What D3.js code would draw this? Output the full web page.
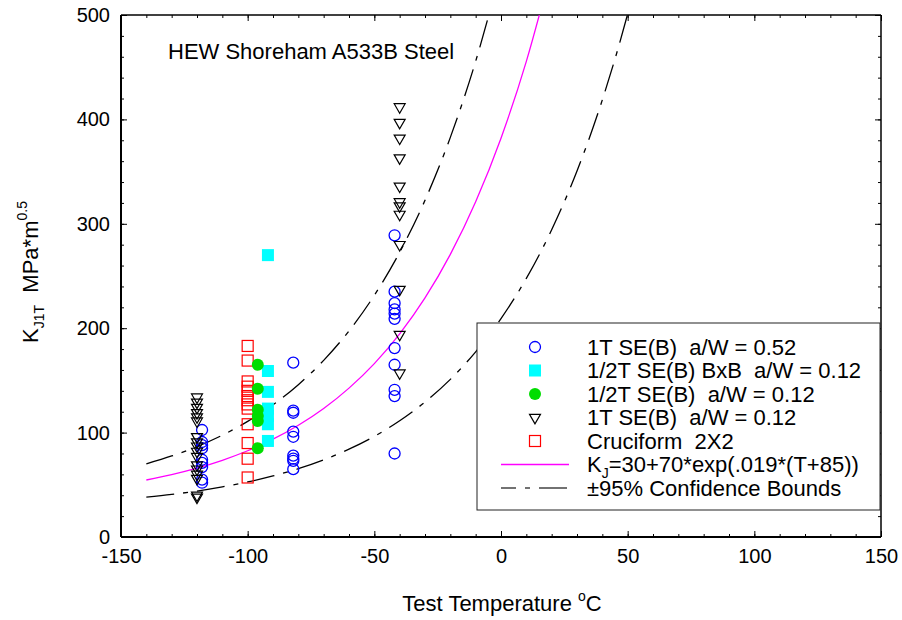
<!DOCTYPE html>
<html>
<head>
<meta charset="utf-8">
<script src="https://cdn.jsdelivr.net/npm/d3@7"></script>
<style>
  body { margin: 0; background: #fff; }
  text { font-family: "Liberation Sans", Arial, sans-serif; fill: #000; white-space: pre; }
</style>
</head>
<body>
<svg id="chart"></svg>
<script>
// ---- data: [temperature C, K_J1T] ----
const oneT52 = [
  [-118, 102.5], [-118, 91], [-118, 88], [-118, 85], [-118, 74], [-118, 71], [-118, 67], [-118, 55], [-118, 52],
  [-82, 167], [-82, 121], [-82, 119], [-82, 101], [-82, 96], [-82, 78], [-82, 75], [-82, 73], [-82, 65],
  [-42, 289], [-42, 235], [-42, 224], [-42, 218], [-42, 214], [-42, 209], [-42, 181], [-42, 165], [-42, 141], [-42, 135], [-42, 80]
];
const halfTBxB = [
  [-92, 270], [-92, 159], [-92, 139], [-92, 123], [-92, 116], [-92, 108], [-92, 92]
];
const halfT12 = [
  [-96, 165], [-96, 142], [-96, 122], [-96, 116], [-96, 111], [-96, 85]
];
const oneT12 = [
  [-120, 134], [-120, 129], [-120, 124], [-120, 119], [-120, 115], [-120, 111],
  [-120, 96], [-120, 91], [-120, 87], [-120, 82], [-120, 77],
  [-120, 69], [-120, 65], [-120, 60], [-120, 56], [-120, 40], [-120, 38],
  [-40, 412], [-40, 397], [-40, 382], [-40, 363], [-40, 336], [-40, 321], [-40, 317], [-40, 309],
  [-40, 280], [-40, 237], [-40, 194], [-40, 157]
];
const cruciform = [
  [-100, 183], [-100, 169], [-100, 149], [-100, 144], [-100, 140], [-100, 135], [-100, 131],
  [-100, 127], [-100, 123], [-100, 108], [-100, 90], [-100, 75], [-100, 57]
];

// master curve and bounds
const medianCurve = [
  [-140, 54.6], [-130, 59.8], [-120, 66.0], [-110, 73.5], [-100, 82.6], [-90, 93.7], [-80, 107.0],
  [-70, 123.1], [-60, 142.6], [-50, 166.1], [-40, 194.6], [-30, 229.0], [-20, 270.7], [-10, 321.1],
  [0, 382.0], [10, 455.6], [20, 544.7]
];
const upperCurve = [
  [-140, 70.1], [-130, 77.6], [-120, 86.6], [-110, 97.5], [-100, 110.7], [-90, 126.6], [-80, 145.9],
  [-70, 169.2], [-60, 197.4], [-50, 231.5], [-40, 272.7], [-30, 322.5], [-20, 382.8], [-10, 455.7], [0, 543.8]
];
const lowerCurve = [
  [-140, 38.1], [-130, 40.8], [-120, 44.0], [-110, 48.0], [-100, 52.7], [-90, 58.5], [-80, 65.4],
  [-70, 73.9], [-60, 84.1], [-50, 96.4], [-40, 111.3], [-30, 129.3], [-20, 151.0], [-10, 177.4],
  [0, 209.2], [10, 247.7], [20, 294.3], [30, 350.6], [40, 418.7], [50, 501.0], [55, 548.4]
];

const xTicks = [-150, -100, -50, 0, 50, 100, 150];
const yTicks = [0, 100, 200, 300, 400, 500];
const legendLabels = [
  "1T SE(B)  a/W = 0.52",
  "1/2T SE(B) BxB  a/W = 0.12",
  "1/2T SE(B)  a/W = 0.12",
  "1T SE(B)  a/W = 0.12",
  "Cruciform  2X2"
];

// ---- layout ----
const margin = { top: 15, right: 21, bottom: 83, left: 121 };
const width = 902 - margin.left - margin.right;
const height = 620 - margin.top - margin.bottom;

const svg = d3.select("#chart").attr("width", 902).attr("height", 620);
const g = svg.append("g")
  .attr("transform", "translate(" + margin.left + "," + margin.top + ")");

const x = d3.scaleLinear().domain([-150, 150]).range([0, width]);
const y = d3.scaleLinear().domain([0, 500]).range([height, 0]);

svg.append("defs").append("clipPath").attr("id", "plotclip")
  .append("rect").attr("width", width).attr("height", height);

// ---- axes (ticks pointing in, on all four sides) ----
function minor(axis, vals) {
  return axis.tickValues(vals).tickSizeInner(-3).tickSizeOuter(0).tickFormat("");
}
const xMinor = d3.range(-150, 151, 10);
const yMinor = d3.range(0, 501, 20);
const plain = function (d) { return String(d); }; // ascii hyphen for negatives

g.append("g").attr("transform", "translate(0," + height + ")")
  .call(minor(d3.axisBottom(x), xMinor));
g.append("g").call(minor(d3.axisTop(x), xMinor));
g.append("g").call(minor(d3.axisLeft(y), yMinor));
g.append("g").attr("transform", "translate(" + width + ",0)")
  .call(minor(d3.axisRight(y), yMinor));

g.append("g").attr("transform", "translate(0," + height + ")")
  .call(d3.axisBottom(x).tickValues(xTicks).tickFormat(plain)
    .tickSizeInner(-6).tickSizeOuter(0).tickPadding(12));
g.append("g")
  .call(d3.axisLeft(y).tickValues(yTicks).tickFormat(plain)
    .tickSizeInner(-6).tickSizeOuter(0).tickPadding(11));
g.append("g").call(d3.axisTop(x).tickValues(xTicks).tickSizeInner(-6).tickSizeOuter(0).tickFormat(""));
g.append("g").attr("transform", "translate(" + width + ",0)")
  .call(d3.axisRight(y).tickValues(yTicks).tickSizeInner(-6).tickSizeOuter(0).tickFormat(""));

g.selectAll(".domain").remove();
g.selectAll(".tick line").attr("stroke", "#000").attr("stroke-width", 1);
g.selectAll(".tick text").style("font-size", "20px")
  .style("font-family", "'Liberation Sans', Arial, sans-serif");

// frame
g.append("line").attr("x1", 0).attr("x2", 0).attr("y1", 0).attr("y2", height)
  .attr("stroke", "#000").attr("stroke-width", 2);
g.append("line").attr("x1", 0).attr("x2", width).attr("y1", height).attr("y2", height)
  .attr("stroke", "#000").attr("stroke-width", 2);
g.append("line").attr("x1", 0).attr("x2", width).attr("y1", 0).attr("y2", 0)
  .attr("stroke", "#000").attr("stroke-width", 1.5);
g.append("line").attr("x1", width).attr("x2", width).attr("y1", 0).attr("y2", height)
  .attr("stroke", "#000").attr("stroke-width", 1.5);

// ---- curves ----
const line = d3.line()
  .x(function (d) { return x(d[0]); })
  .y(function (d) { return y(d[1]); })
  .curve(d3.curveMonotoneX);

const curves = g.append("g").attr("clip-path", "url(#plotclip)");
curves.append("path").datum(medianCurve).attr("d", line)
  .attr("fill", "none").attr("stroke", "#ff00ff").attr("stroke-width", 1.3);
[upperCurve, lowerCurve].forEach(function (c) {
  curves.append("path").datum(c).attr("d", line)
    .attr("fill", "none").attr("stroke", "#000").attr("stroke-width", 1.3)
    .attr("stroke-dasharray", "28,9,5,9");
});

// ---- points ----
const triPath = d3.symbol().type(d3.symbolTriangle).size(52)();

g.selectAll(".cru").data(cruciform).enter().append("rect")
  .attr("x", function (d) { return x(d[0]) - 5.5; })
  .attr("y", function (d) { return y(d[1]) - 5.5; })
  .attr("width", 11).attr("height", 11)
  .attr("fill", "none").attr("stroke", "#ff0000").attr("stroke-width", 1.2);

g.selectAll(".bxb").data(halfTBxB).enter().append("rect")
  .attr("x", function (d) { return x(d[0]) - 6; })
  .attr("y", function (d) { return y(d[1]) - 6; })
  .attr("width", 12).attr("height", 12)
  .attr("fill", "#00ffff");

g.selectAll(".half").data(halfT12).enter().append("circle")
  .attr("cx", function (d) { return x(d[0]); })
  .attr("cy", function (d) { return y(d[1]); })
  .attr("r", 6).attr("fill", "#00dd00");

g.selectAll(".c52").data(oneT52).enter().append("circle")
  .attr("cx", function (d) { return x(d[0]); })
  .attr("cy", function (d) { return y(d[1]); })
  .attr("r", 5.5).attr("fill", "none").attr("stroke", "#0000ff").attr("stroke-width", 1.3);

g.selectAll(".t12").data(oneT12).enter().append("path")
  .attr("d", triPath)
  .attr("transform", function (d) { return "translate(" + x(d[0]) + "," + y(d[1]) + ") rotate(180)"; })
  .attr("fill", "none").attr("stroke", "#000").attr("stroke-width", 1.2);

// ---- title ----
svg.append("text").attr("x", 168).attr("y", 59)
  .style("font-size", "22px").text("HEW Shoreham A533B Steel");

// ---- axis labels ----
const xl = svg.append("text").attr("x", 502).attr("y", 611)
  .attr("text-anchor", "middle").style("font-size", "22px");
xl.append("tspan").text("Test Temperature ");
xl.append("tspan").attr("dy", -10).style("font-size", "14px").text("o");
xl.append("tspan").attr("dy", 10).text("C");

const yl = svg.append("text")
  .attr("transform", "translate(38,272) rotate(-90)")
  .attr("text-anchor", "middle").style("font-size", "22px");
yl.append("tspan").text("K");
yl.append("tspan").attr("dy", 6).style("font-size", "14px").text("J1T");
yl.append("tspan").attr("dy", -6).text("  MPa*m");
yl.append("tspan").attr("dy", -11).style("font-size", "14px").text("0.5");

// ---- legend ----
const legend = svg.append("g");
legend.append("rect").attr("x", 477).attr("y", 323).attr("width", 403).attr("height", 187)
  .attr("fill", "#fff").attr("stroke", "#222").attr("stroke-width", 1);

const rowY = function (i) { return 347 + i * 23.5; };
const symX = 535;
const textX = 587;

legend.append("circle").attr("cx", symX).attr("cy", rowY(0)).attr("r", 5.5)
  .attr("fill", "none").attr("stroke", "#0000ff").attr("stroke-width", 1.3);
legend.append("rect").attr("x", symX - 6).attr("y", rowY(1) - 6).attr("width", 12).attr("height", 12)
  .attr("fill", "#00ffff");
legend.append("circle").attr("cx", symX).attr("cy", rowY(2)).attr("r", 6).attr("fill", "#00dd00");
legend.append("path").attr("d", triPath)
  .attr("transform", "translate(" + symX + "," + rowY(3) + ") rotate(180)")
  .attr("fill", "none").attr("stroke", "#000").attr("stroke-width", 1.2);
legend.append("rect").attr("x", symX - 5.5).attr("y", rowY(4) - 5.5).attr("width", 11).attr("height", 11)
  .attr("fill", "none").attr("stroke", "#ff0000").attr("stroke-width", 1.2);
legend.append("line").attr("x1", 501).attr("x2", 569).attr("y1", rowY(5)).attr("y2", rowY(5))
  .attr("stroke", "#ff00ff").attr("stroke-width", 1.3);
legend.append("line").attr("x1", 501).attr("x2", 569).attr("y1", rowY(6)).attr("y2", rowY(6))
  .attr("stroke", "#444").attr("stroke-width", 1.5)
  .attr("stroke-dasharray", "28,9,5,9").attr("stroke-dashoffset", 13);

legendLabels.forEach(function (t, i) {
  legend.append("text").attr("x", textX).attr("y", rowY(i) + 7.5)
    .style("font-size", "22px").text(t);
});
const kj = legend.append("text").attr("x", textX).attr("y", rowY(5) + 7.5)
  .style("font-size", "22px");
kj.append("tspan").text("K");
kj.append("tspan").attr("dy", 6).style("font-size", "14px").text("J");
kj.append("tspan").attr("dy", -6).text("=30+70*exp(.019*(T+85))");
legend.append("text").attr("x", textX).attr("y", rowY(6) + 7.5)
  .style("font-size", "22px").text("\u00b195% Confidence Bounds");
</script>
</body>
</html>
